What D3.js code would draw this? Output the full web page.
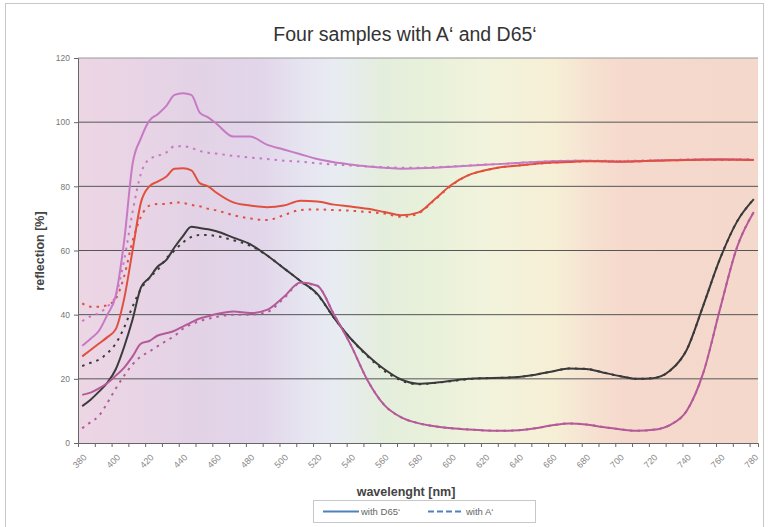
<!DOCTYPE html>
<html>
<head>
<meta charset="utf-8">
<script src="https://cdn.jsdelivr.net/npm/d3@7"></script>
<style>
  body { margin: 0; background: #fff; }
  text { font-family: "Liberation Sans", Arial, sans-serif; }
</style>
</head>
<body>
<svg id="chart" width="769" height="527"></svg>
<script>
// wavelengths [nm]
const wavelengths = [380,385,390,395,400,405,410,415,420,425,430,435,440,445,450,455,460,
  470,480,490,500,510,520,530,540,550,560,570,580,590,600,610,620,630,640,650,660,670,680,
  690,700,710,720,730,740,750,760,770,780];

// reflection [%] of the four samples, solid = D65', dotted = A'
const violetD65 = [30.3,32.5,35,40,46,63,87,95,100.5,102.5,105,108.5,109,108.5,103,101.5,99.5,
  95.5,95.5,93,91.5,90,88.5,87.5,86.8,86.2,85.8,85.5,85.6,85.8,86.1,86.4,86.7,87,87.3,87.6,87.8,87.9,88,
  87.8,87.7,87.8,88,88.1,88.3,88.4,88.5,88.4,88.3];
const violetA = [38,39.5,40.5,42.5,46,57,72,84,88.5,89.5,90.5,92.5,92.5,92,91,90.5,90.2,
  89.5,89,88.5,88,87.7,87.2,86.8,86.5,86.2,86,85.8,85.8,86,86.2,86.5,86.8,87,87.3,87.6,87.8,88,88,
  88,87.9,88,88.1,88.2,88.4,88.5,88.5,88.5,88.5];
const redD65 = [27,29,31,33,35.5,45,60,75,80,81.5,83,85.5,85.6,85,81,80,78,
  75,74,73.5,74,75.5,75.3,74.3,73.7,73,72,71,71.8,76,80.5,83.5,85,86,86.5,87,87.4,87.6,87.8,
  87.8,87.7,87.8,88,88.1,88.2,88.3,88.3,88.3,88.2];
const redA = [43.5,42.5,42.5,43,45,52,63,70.5,74,74.5,74.5,75,74.8,74.2,73.8,73,72.5,
  71,70,69.5,71,72.6,72.8,72.6,72.4,72,71.5,70.5,71.5,75.8,80.3,83.4,85,86,86.5,87,87.4,87.6,87.8,
  87.8,87.7,87.8,88,88.1,88.2,88.3,88.3,88.3,88.2];
const blackD65 = [11.5,13.5,16,18.8,23,30,38.5,48.5,51.5,55,57,61,64.5,67.4,67,66.6,66,
  64,62,58.5,54.5,50.5,46.5,39,32.5,27.3,23,19.8,18.5,18.8,19.4,20,20.2,20.3,20.6,21.3,22.3,23.2,23.1,
  22,20.9,20,20.2,22.5,29,43,57.6,69,76];
const blackA = [24,25,26,28,31,36,42.5,48,51.5,54,57.5,60,62.5,64.2,64.8,64.8,64.5,
  63.2,61.5,58.5,54.5,50.5,46.3,39,32.5,27,22.5,19.5,18.3,18.7,19.3,19.9,20.2,20.3,20.6,21.3,22.3,23.2,23.1,
  22,20.9,20,20.2,22.5,29,43,57.6,69,76];
const mauveD65 = [15,15.7,17,18.7,21,23.5,27,31,31.8,33.5,34.2,35,36.3,37.6,38.8,39.5,40.2,
  41,40.5,41.5,45.5,50,49,40,30.5,19.5,11.8,8,6.2,5.2,4.6,4.2,3.9,3.8,4,4.6,5.5,6.1,5.8,
  5,4.3,3.8,4.1,5.6,10,22,42,61,72];
const mauveA = [4.6,6.5,8.5,12.5,17,21,24.5,27,28.5,30.2,31.8,33.4,35.6,37,38,38.7,39.3,
  40,40,40.8,45,49.8,49,40,30.5,19.5,11.8,8,6.2,5.2,4.6,4.2,3.9,3.8,4,4.6,5.5,6.1,5.8,
  5,4.3,3.8,4.1,5.6,10,22,42,61,72];

const yTicks = [0, 20, 40, 60, 80, 100, 120];
const xLabels = d3.range(380, 781, 20);

const series = [
  { values: violetA, color: "#c77ac4", dashed: true },
  { values: redA, color: "#e0503f", dashed: true },
  { values: blackA, color: "#3a3a3a", dashed: true },
  { values: mauveA, color: "#b45a98", dashed: true },
  { values: violetD65, color: "#c77ac4", dashed: false },
  { values: redD65, color: "#e0503f", dashed: false },
  { values: blackD65, color: "#3a3a3a", dashed: false },
  { values: mauveD65, color: "#b45a98", dashed: false }
];

let svg = d3.select("#chart");
let margin = { top: 58, right: 11, bottom: 84, left: 78 };
let width = +svg.attr("width") - margin.left - margin.right;
let height = +svg.attr("height") - margin.top - margin.bottom;

// outer frame
svg.append("rect")
  .attr("x", 5.5).attr("y", 3.5)
  .attr("width", 758).attr("height", 530)
  .attr("fill", "#fff").attr("stroke", "#c8c8c8");

let x = d3.scaleLinear().domain([377.5, 782.5]).range([0, width]);
let y = d3.scaleLinear().domain([0, 120]).range([height, 0]);

let g = svg.append("g").attr("transform", `translate(${margin.left},${margin.top})`);

// spectrum background
let grad = svg.append("defs").append("linearGradient")
  .attr("id", "spectrum").attr("x1", "0%").attr("x2", "100%");
[[0, "#edd6e4"], [0.17, "#e3d2e6"], [0.27, "#e2d6ea"], [0.33, "#e6e4f0"], [0.38, "#e8ecf2"],
 [0.45, "#e4eedc"], [0.5, "#e6f0da"], [0.6, "#f2f3dc"], [0.7, "#f6efd6"], [0.76, "#f6e0d0"],
 [0.8, "#f6d9cd"], [1, "#f5d8cc"]].forEach(s => {
  grad.append("stop").attr("offset", s[0]).attr("stop-color", s[1]);
});
g.append("rect").attr("width", width).attr("height", height).attr("fill", "url(#spectrum)");

// grid lines
g.selectAll(".grid")
  .data(yTicks.filter(d => d > 0))
  .enter().append("line")
  .attr("x1", 0).attr("x2", width)
  .attr("y1", d => y(d)).attr("y2", d => y(d))
  .attr("stroke", d => d === 120 ? "#9a9a9a" : "#555")
  .attr("stroke-width", 1);

// y axis
let yAxis = g.append("g").call(d3.axisLeft(y).tickValues(yTicks).tickSize(4).tickPadding(4));
yAxis.select(".domain").attr("stroke", "#666");
yAxis.selectAll(".tick line").attr("stroke", "#666");
yAxis.selectAll("text").attr("fill", "#777").style("font-size", "8.5px");

// x axis: ticks between categories, labels on every 20 nm
let xAxis = g.append("g").attr("transform", `translate(0,${height})`)
  .call(d3.axisBottom(x).tickValues(d3.range(377.5, 780, 10)).tickSize(4).tickFormat(""));
xAxis.select(".domain").attr("stroke", "#666");
xAxis.selectAll(".tick line").attr("stroke", "#666");

g.selectAll(".xlabel")
  .data(xLabels)
  .enter().append("text")
  .attr("class", "xlabel")
  .attr("transform", d => `translate(${x(d) + 5},${height + 15}) rotate(-45)`)
  .attr("text-anchor", "end")
  .attr("fill", "#888")
  .style("font-size", "9px")
  .text(d => d);

// lines
let line = d3.line()
  .x((d, i) => x(wavelengths[i]))
  .y(d => y(d))
  .curve(d3.curveMonotoneX);

g.selectAll(".series")
  .data(series)
  .enter().append("path")
  .attr("class", "series")
  .attr("d", d => line(d.values))
  .attr("fill", "none")
  .attr("stroke", d => d.color)
  .attr("stroke-width", 2)
  .attr("stroke-dasharray", d => d.dashed ? "2.5,5" : null);

// title and axis titles
svg.append("text")
  .attr("x", 405).attr("y", 41)
  .attr("text-anchor", "middle")
  .attr("fill", "#333")
  .style("font-size", "19.5px")
  .text("Four samples with A\u2018 and D65\u2018");

svg.append("text")
  .attr("transform", "translate(44,251) rotate(-90)")
  .attr("text-anchor", "middle")
  .attr("fill", "#444")
  .style("font-size", "12.5px").style("font-weight", "bold")
  .text("reflection [%]");

svg.append("text")
  .attr("x", 406).attr("y", 496)
  .attr("text-anchor", "middle")
  .attr("fill", "#444")
  .style("font-size", "12.5px").style("font-weight", "bold")
  .text("wavelenght [nm]");

// legend
let legend = svg.append("g").attr("transform", "translate(313,500)");
legend.append("rect")
  .attr("x", 0.5).attr("y", 0.5).attr("width", 222).attr("height", 22)
  .attr("fill", "#fff").attr("stroke", "#c8c8c8");
[{ label: "with D65\u2018", dashed: false, x: 10 }, { label: "with A\u2018", dashed: true, x: 115 }]
  .forEach(d => {
    legend.append("line")
      .attr("x1", d.x).attr("x2", d.x + 36).attr("y1", 11.5).attr("y2", 11.5)
      .attr("stroke", "#4f81bd").attr("stroke-width", 2)
      .attr("stroke-dasharray", d.dashed ? "6,3" : null);
    legend.append("text")
      .attr("x", d.x + 38).attr("y", 15)
      .attr("fill", "#666")
      .style("font-size", "9.5px")
      .text(d.label);
  });
</script>
</body>
</html>
